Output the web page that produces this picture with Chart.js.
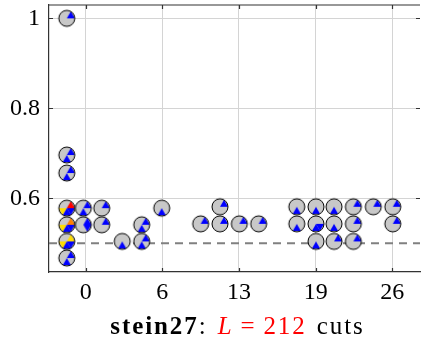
<!DOCTYPE html>
<html>
<head>
<meta charset="utf-8">
<script src="https://cdn.jsdelivr.net/npm/chart.js@4.4.1/dist/chart.umd.min.js"></script>
<style>
  html, body { margin: 0; padding: 0; background: #fff; }
  #wrap { position: relative; width: 425px; height: 344px; }
  #titulo {
    position: absolute; left: 52px; width: 371px; top: 313px;
    text-align: center; white-space: nowrap;
    font-family: 'Liberation Serif', serif; font-size: 25px; line-height: 26px;
    letter-spacing: 1.9px; word-spacing: 2px; color: #000;
  }
  #titulo .vermelho { color: #ff0000; }
  #titulo .eq { padding: 0 7px; }
</style>
</head>
<body>
<div id="wrap">
  <canvas id="grafico" width="425" height="344"></canvas>
  <div id="titulo"><b>stein27</b>: <span class="vermelho"><i>L</i><span class="eq">=</span>212</span> cuts</div>
</div>
<script>
// --- DADOS ---

// posição de cada glifo (pizza) no gráfico
const valoresX = [
  -1.6, -1.6, -1.6, -1.6, -1.6, -1.6, -1.6,
  -0.2, -0.2, 1.36, 1.36, 3.1, 4.75, 4.75, 6.45,
  11.39, 9.75, 11.39, 13.03, 14.67,
  17.9, 19.53, 21.06, 22.7, 24.39, 26.04,
  17.9, 19.53, 21.06, 22.7, 26.04,
  19.53, 21.06, 22.7
];
const valoresY = [
  1.0, 0.696, 0.656, 0.578, 0.541, 0.504, 0.467,
  0.578, 0.541, 0.578, 0.541, 0.504, 0.541, 0.504, 0.578,
  0.581, 0.543, 0.543, 0.543, 0.543,
  0.581, 0.581, 0.581, 0.581, 0.581, 0.581,
  0.543, 0.543, 0.543, 0.543, 0.543,
  0.504, 0.504, 0.504
];
// uma letra por fatia de 60° (a partir do leste, sentido anti-horário)
// '.' cinza, 'b' azul, 'r' vermelho, 'o' laranja, 'y' amarelo
const fatias = [
  'b.....', 'b...b.', 'b...b.', 'r..ybb', 'o..ybb', 'y..ybb', 'b...b.',
  'b...b.', 'b....b', 'b.....', 'b.....', '....b.', 'b...b.', 'b...b.', '....b.',
  'b.....', 'b.....', 'b.....', 'b.....', 'b.....',
  '....b.', '....b.', '....b.', 'b.....', 'b.....', 'b.....',
  '....b.', '....bb', '....b.', 'b.....', 'b.....',
  '....b.', 'b.....', 'b.....'
];
const limiarY = 0.5;

const ticksX = [0, 6.5, 13, 19.5, 26];
const rotulosX = ['0', '6', '13', '19', '26'];
const ticksY = [0.6, 0.8, 1];
const rotulosY = ['0.6', '0.8', '1'];

// --- ESTILO ---
const coresFatia = { b: '#0000ff', r: '#ff0000', o: '#ff8000', y: '#ffdd00' };
const corFundo = '#c8c8c8';
const corEixo = '#333333';
const corGrade = '#d4d4d4';

const X_MIN = -3.11, X_MAX = 28.35;
const Y_MIN = 0.436, Y_MAX = 1.0296;

/**
 * Cria um pequeno canvas com a pizza usada como marcador do ponto.
 */
function criarGlifo(codigo) {
  const c = document.createElement('canvas');
  c.width = 20; c.height = 20;
  const g = c.getContext('2d');
  const cx = 10, cy = 10, r = 8;
  g.beginPath();
  g.arc(cx, cy, r, 0, Math.PI * 2);
  g.fillStyle = corFundo;
  g.fill();
  for (let i = 0; i < codigo.length; i++) {
    const cor = coresFatia[codigo[i]];
    if (!cor) continue;
    const a1 = i * Math.PI / 3, a2 = (i + 1) * Math.PI / 3;
    g.beginPath();
    g.moveTo(cx, cy);
    g.lineTo(cx + r * Math.cos(a1), cy - r * Math.sin(a1));
    g.lineTo(cx + r * Math.cos(a2), cy - r * Math.sin(a2));
    g.closePath();
    g.fillStyle = cor;
    g.fill();
  }
  g.beginPath();
  g.arc(cx, cy, r, 0, Math.PI * 2);
  g.strokeStyle = '#000';
  g.lineWidth = 1;
  g.stroke();
  return c;
}

const glifos = fatias.map(criarGlifo);
const pontos = valoresX.map((x, i) => ({ x: x, y: valoresY[i] }));

// borda superior e marcas de tick para dentro
const molduraPlugin = {
  id: 'moldura',
  afterDraw(chart) {
    const { ctx, chartArea: a, scales } = chart;
    ctx.save();
    ctx.strokeStyle = corEixo;
    ctx.lineWidth = 1.2;
    ctx.beginPath();
    ctx.moveTo(a.left, a.top);
    ctx.lineTo(a.right, a.top);
    ticksX.forEach(v => {
      const px = Math.round(scales.x.getPixelForValue(v)) + 0.5;
      ctx.moveTo(px, a.bottom); ctx.lineTo(px, a.bottom - 4);
      ctx.moveTo(px, a.top); ctx.lineTo(px, a.top + 4);
    });
    ticksY.forEach(v => {
      const py = Math.round(scales.y.getPixelForValue(v)) + 0.5;
      ctx.moveTo(a.left, py); ctx.lineTo(a.left + 4, py);
      ctx.moveTo(a.right, py); ctx.lineTo(a.right - 4, py);
    });
    ctx.stroke();
    ctx.restore();
  }
};

Chart.defaults.font.family = "'Liberation Serif', serif";
Chart.defaults.color = '#000';

new Chart(document.getElementById('grafico'), {
  type: 'scatter',
  data: {
    datasets: [
      {
        type: 'line',
        data: [{ x: X_MIN, y: limiarY }, { x: X_MAX, y: limiarY }],
        borderColor: '#808080',
        borderWidth: 2,
        borderDash: [8, 6],
        pointRadius: 0,
        order: 2
      },
      {
        data: pontos,
        pointStyle: ctx => glifos[ctx.dataIndex],
        order: 1
      }
    ]
  },
  options: {
    responsive: false,
    animation: false,
    layout: { padding: { top: 5, right: 5, left: 0, bottom: 0 } },
    plugins: { legend: { display: false }, tooltip: { enabled: false } },
    scales: {
      x: {
        type: 'linear',
        min: X_MIN, max: X_MAX,
        afterBuildTicks: s => { s.ticks = ticksX.map(v => ({ value: v })); },
        afterFit: s => { s.height = 72; s.paddingLeft = 0; s.paddingRight = 0; },
        ticks: {
          autoSkip: false, maxRotation: 0, padding: 6,
          font: { size: 24 },
          callback: (v, i) => rotulosX[i]
        },
        grid: { color: corGrade, lineWidth: 1, drawTicks: false },
        border: { color: corEixo, width: 1.2 }
      },
      y: {
        type: 'linear',
        min: Y_MIN, max: Y_MAX,
        afterBuildTicks: s => { s.ticks = ticksY.map(v => ({ value: v })); },
        afterFit: s => { s.width = 49; s.paddingTop = 0; s.paddingBottom = 0; },
        ticks: {
          autoSkip: false, padding: 9,
          font: { size: 24 },
          callback: (v, i) => rotulosY[i]
        },
        grid: { color: corGrade, lineWidth: 1, drawTicks: false },
        border: { color: corEixo, width: 1.2 }
      }
    }
  },
  plugins: [molduraPlugin]
});
</script>
</body>
</html>
